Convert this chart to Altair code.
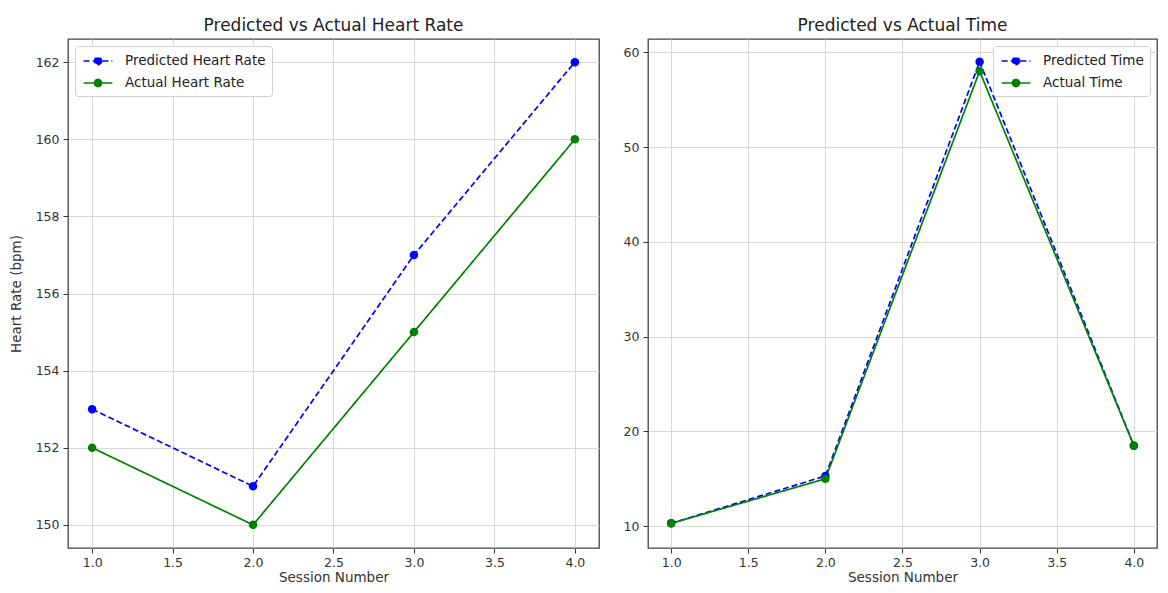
import altair as alt
import pandas as pd

sessions = [1, 2, 3, 4]
pred_hr = [153, 151, 157, 162]
actual_hr = [152, 150, 155, 160]
pred_time = [10.3, 15.3, 59.0, 18.5]
actual_time = [10.3, 15.0, 58.0, 18.5]

x_ticks = [1.0, 1.5, 2.0, 2.5, 3.0, 3.5, 4.0]
hr_ticks = [150, 152, 154, 156, 158, 160, 162]
time_ticks = [10, 20, 30, 40, 50, 60]

BLUE = "#0000ff"
GREEN = "#008000"
FONT = "DejaVu Sans"

# legend handle: short line segments on both sides of a filled-looking dot
SYMBOL = ("M-1.8,0H-0.55M0.55,0H1.8"
          "M0.45,0A0.45,0.45,0,1,1,-0.45,0A0.45,0.45,0,1,1,0.45,0"
          "M0.3,0A0.3,0.3,0,1,1,-0.3,0A0.3,0.3,0,1,1,0.3,0"
          "M0.15,0A0.15,0.15,0,1,1,-0.15,0A0.15,0.15,0,1,1,0.15,0")


def make_df(pred, act, pname, aname):
    rows = []
    for s, v in zip(sessions, pred):
        rows.append({"session": s, "value": v, "series": pname})
    for s, v in zip(sessions, act):
        rows.append({"session": s, "value": v, "series": aname})
    return pd.DataFrame(rows)


def legend(orient):
    return alt.Legend(title=None, orient=orient, symbolType=SYMBOL,
                      symbolSize=256, symbolStrokeWidth=1.6,
                      labelFontSize=13.5, labelFont=FONT, labelColor="#222",
                      fillColor="white", strokeColor="#d0d0d0",
                      padding=6, cornerRadius=3, rowPadding=6,
                      offset=7, symbolOffset=8, labelOffset=18)


def panel(df, pname, aname, title, ydomain, yticks, ytitle, legend_orient, w, h):
    xscale = alt.Scale(domain=[0.85, 4.15], nice=False, zero=False)
    yscale = alt.Scale(domain=ydomain, nice=False, zero=False)
    color = alt.Color("series:N", scale=alt.Scale(domain=[pname, aname], range=[BLUE, GREEN]),
                      legend=legend(legend_orient))
    dash = alt.StrokeDash("series:N", scale=alt.Scale(domain=[pname, aname], range=[[6, 3], [1, 0]]),
                          legend=legend(legend_orient))
    xaxis = alt.Axis(values=x_ticks, format=".1f", title="Session Number", grid=True)
    yaxis = alt.Axis(values=yticks, format="d", title=ytitle, grid=True)
    base = alt.Chart(df)
    line = base.mark_line(strokeWidth=1.7).encode(
        x=alt.X("session:Q", scale=xscale, axis=xaxis),
        y=alt.Y("value:Q", scale=yscale, axis=yaxis),
        color=color,
        strokeDash=dash,
        order=alt.Order("session:Q"),
    )
    pts = base.mark_point(filled=True, size=72, opacity=1).encode(
        x=alt.X("session:Q", scale=xscale),
        y=alt.Y("value:Q", scale=yscale),
        color=alt.Color("series:N", scale=alt.Scale(domain=[pname, aname], range=[BLUE, GREEN]), legend=None),
    )
    return alt.layer(line, pts).properties(
        width=w, height=h,
        title=alt.TitleParams(title, fontSize=17, fontWeight="normal", font=FONT, color="#222", offset=4),
    )


left = panel(make_df(pred_hr, actual_hr, "Predicted Heart Rate", "Actual Heart Rate"),
             "Predicted Heart Rate", "Actual Heart Rate", "Predicted vs Actual Heart Rate",
             [149.4, 162.6], hr_ticks, "Heart Rate (bpm)", "top-left", 531, 509)
right = panel(make_df(pred_time, actual_time, "Predicted Time", "Actual Time"),
              "Predicted Time", "Actual Time", "Predicted vs Actual Time",
              [7.7, 61.4], time_ticks, None, "top-right", 509, 509)

chart = alt.hconcat(left, right, spacing=22).resolve_scale(color="independent", strokeDash="independent").properties(
    padding={"left": 0, "top": 8, "right": 0, "bottom": 0}
).configure_view(
    stroke="#444444", strokeWidth=1.3
).configure_axis(
    domain=False, tickColor="#333", tickSize=5, labelFont=FONT, labelFontSize=12.5, labelColor="#333",
    titleFont=FONT, titleFontSize=13.5, titleFontWeight="normal", titleColor="#333",
    gridColor="#d4d4d4", gridWidth=0.9, labelPadding=4
).configure_axisX(titlePadding=2, labelPadding=3).configure_axisY(titlePadding=12)

chart.save("out.html", embed_options={"renderer": "svg", "actions": False})
